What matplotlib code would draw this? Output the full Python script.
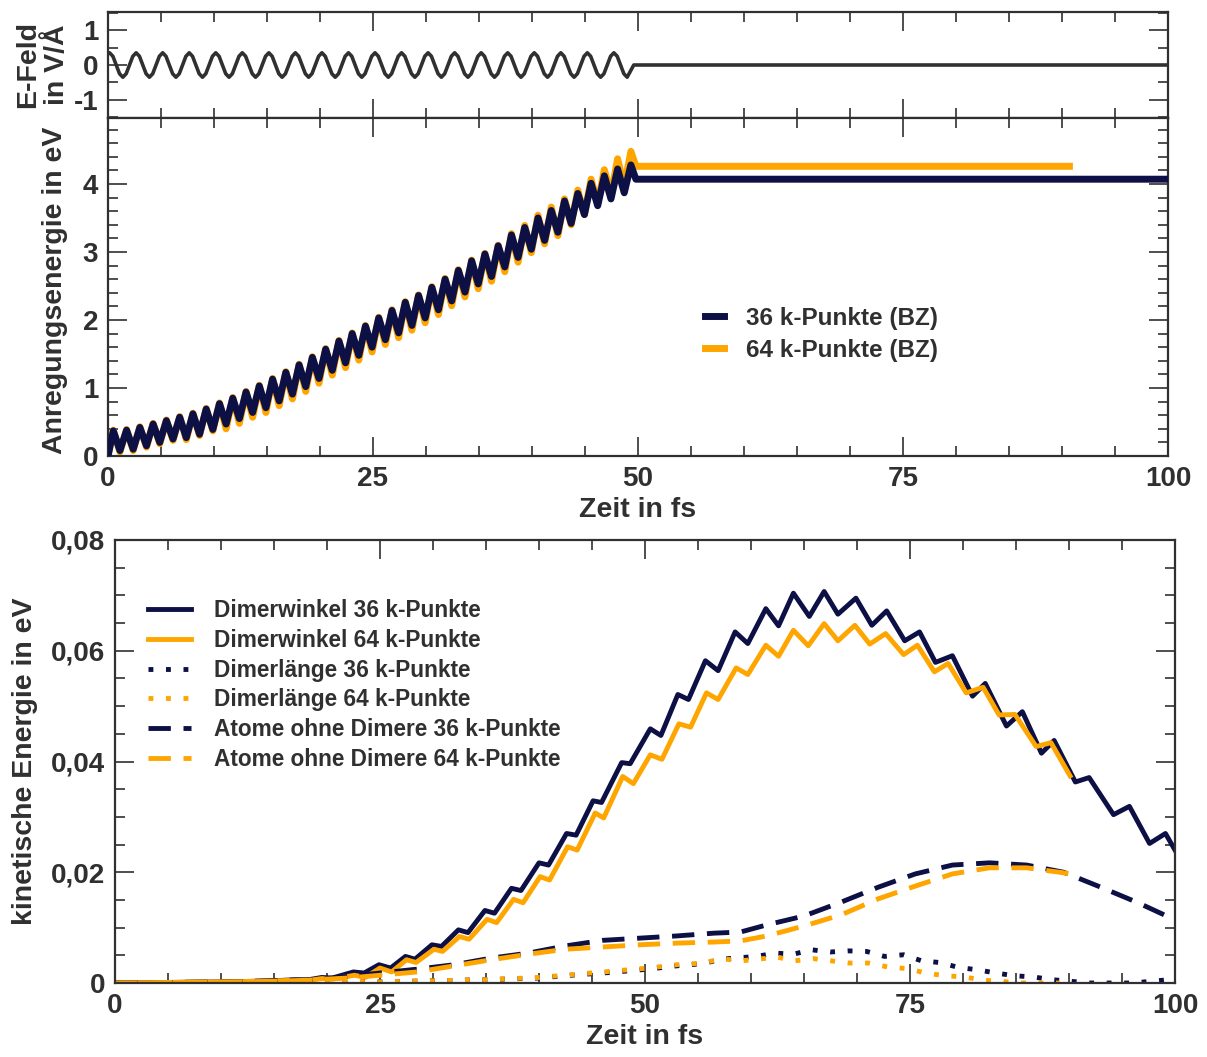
import numpy as np
import matplotlib
matplotlib.use("Agg")
import matplotlib.pyplot as plt
from matplotlib.ticker import MultipleLocator, FuncFormatter

plt.rcParams['font.family'] = ['Liberation Sans', 'DejaVu Sans']
plt.rcParams['font.weight'] = 'bold'
plt.rcParams['axes.labelweight'] = 'bold'
plt.rcParams['axes.unicode_minus'] = False

NAVY = '#0c1045'
ORANGE = '#ffa500'
INK = '#303030'

# ---- E-Feld (V/A), sampled every 1/8 period, period ~2.5 fs ----
efield = [
    0.35, 0.25, 0.0, -0.25, -0.35, -0.25, 0.0, 0.25,
    0.35, 0.25, 0.0, -0.25, -0.35, -0.25, 0.0, 0.25,
    0.35, 0.25, 0.0, -0.25, -0.35, -0.25, 0.0, 0.25,
    0.35, 0.25, 0.0, -0.25, -0.35, -0.25, 0.0, 0.25,
    0.35, 0.25, 0.0, -0.25, -0.35, -0.25, 0.0, 0.25,
    0.35, 0.25, 0.0, -0.25, -0.35, -0.25, 0.0, 0.25,
    0.35, 0.25, 0.0, -0.25, -0.35, -0.25, 0.0, 0.25,
    0.35, 0.25, 0.0, -0.25, -0.35, -0.25, 0.0, 0.25,
    0.35, 0.25, 0.0, -0.25, -0.35, -0.25, 0.0, 0.25,
    0.35, 0.25, 0.0, -0.25, -0.35, -0.25, 0.0, 0.25,
    0.35, 0.25, 0.0, -0.25, -0.35, -0.25, 0.0, 0.25,
    0.35, 0.25, 0.0, -0.25, -0.35, -0.25, 0.0, 0.25,
    0.35, 0.25, 0.0, -0.25, -0.35, -0.25, 0.0, 0.25,
    0.35, 0.25, 0.0, -0.25, -0.35, -0.25, 0.0, 0.25,
    0.35, 0.25, 0.0, -0.25, -0.35, -0.25, 0.0, 0.25,
    0.35, 0.25, 0.0, -0.25, -0.35, -0.25, 0.0, 0.25,
    0.35, 0.25, 0.0, -0.25, -0.35, -0.25, 0.0, 0.25,
    0.35, 0.25, 0.0, -0.25, -0.35, -0.25, 0.0, 0.25,
    0.35, 0.25, 0.0, -0.25, -0.35, -0.25, 0.0, 0.25,
    0.35, 0.25, 0.0, -0.25, -0.35,
]

# ---- Anregungsenergie (eV): peaks and troughs of the oscillation ----
peaks36 = [0.37, 0.38, 0.42, 0.47, 0.52, 0.57, 0.62, 0.69, 0.77, 0.85,
           0.94, 1.03, 1.13, 1.23, 1.34, 1.45, 1.57, 1.69, 1.80, 1.91,
           2.03, 2.14, 2.26, 2.36, 2.48, 2.60, 2.73, 2.87, 2.97, 3.09,
           3.25, 3.36, 3.50, 3.61, 3.75, 3.86, 4.01, 4.12, 4.22, 4.28]
troughs36 = [0.08, 0.10, 0.15, 0.20, 0.25, 0.27, 0.32, 0.39, 0.47, 0.55,
             0.64, 0.71, 0.81, 0.91, 1.02, 1.14, 1.26, 1.37, 1.48, 1.60,
             1.71, 1.81, 1.92, 2.03, 2.15, 2.28, 2.41, 2.53, 2.64, 2.78,
             2.92, 3.04, 3.17, 3.29, 3.42, 3.55, 3.68, 3.78, 3.87]
peaks64 = [0.38, 0.39, 0.43, 0.48, 0.53, 0.58, 0.63, 0.70, 0.78, 0.86,
           0.95, 1.04, 1.14, 1.24, 1.35, 1.46, 1.58, 1.70, 1.81, 1.92,
           2.04, 2.15, 2.27, 2.37, 2.49, 2.61, 2.74, 2.88, 2.98, 3.10,
           3.27, 3.39, 3.54, 3.66, 3.78, 3.91, 4.07, 4.21, 4.37, 4.48]
troughs64 = [0.06, 0.08, 0.13, 0.18, 0.23, 0.24, 0.30, 0.37, 0.40, 0.48,
             0.57, 0.64, 0.74, 0.84, 0.95, 1.07, 1.19, 1.30, 1.41, 1.53,
             1.64, 1.74, 1.85, 1.96, 2.08, 2.21, 2.34, 2.46, 2.57, 2.71,
             2.85, 2.99, 3.12, 3.24, 3.40, 3.55, 3.71, 3.84, 3.96]
flat36, flat64 = 4.07, 4.26
end36, end64 = 100.0, 90.7

# ---- kinetische Energie (eV) ----
winkel36_t = [0, 5, 10, 13, 15, 17, 18, 19.5, 20.5, 22.5, 23.5, 24.9, 26.0, 27.4, 28.3,
              29.9, 30.8, 32.4, 33.3, 34.9, 35.8, 37.4, 38.3, 40.0, 40.9, 42.6, 43.5,
              45.1, 45.9, 47.8, 48.6, 50.5, 51.5, 53.1, 54.1, 55.7, 56.9, 58.5, 59.7,
              61.4, 62.6, 64.0, 65.5, 66.9, 68.2, 69.9, 71.4, 72.8, 74.5, 75.9, 77.4,
              79.0, 80.9, 82.1, 84.1, 85.6, 87.4, 88.6, 90.6, 91.9, 94.2, 95.7, 97.6,
              99.1, 100]
winkel36 = [0, 0.0001, 0.0002, 0.0003, 0.0004, 0.0006, 0.0005, 0.0010, 0.0009, 0.0020,
            0.0018, 0.0033, 0.0027, 0.0048, 0.0043, 0.0069, 0.0066, 0.0096, 0.0091,
            0.0131, 0.0126, 0.0171, 0.0167, 0.0217, 0.0213, 0.0270, 0.0267, 0.0329,
            0.0326, 0.0398, 0.0396, 0.0459, 0.0447, 0.0521, 0.0512, 0.0582, 0.0564,
            0.0634, 0.0613, 0.0676, 0.0645, 0.0704, 0.0662, 0.0707, 0.0666, 0.0695,
            0.0646, 0.0672, 0.0618, 0.0634, 0.0579, 0.0591, 0.0518, 0.0541, 0.0464,
            0.0490, 0.0415, 0.0438, 0.0363, 0.0371, 0.0304, 0.0319, 0.0252, 0.0270,
            0.0240]
winkel64_t = [0, 5, 10, 13, 15, 17, 18, 19.5, 20.5, 22.6, 23.6, 25.0, 26.1, 27.5, 28.4,
              30.1, 30.9, 32.5, 33.4, 35.1, 36.0, 37.6, 38.5, 40.1, 41.0, 42.7, 43.6,
              45.3, 46.1, 47.9, 48.9, 50.5, 51.6, 53.2, 54.3, 55.8, 56.9, 58.6, 59.7,
              61.4, 62.6, 64.0, 65.4, 66.9, 68.2, 69.8, 71.2, 72.7, 74.4, 75.7, 77.3,
              78.6, 80.3, 81.9, 83.4, 84.9, 86.9, 88.3, 90.1]
winkel64 = [0, 0.0001, 0.0002, 0.0003, 0.0004, 0.0005, 0.0004, 0.0008, 0.0007, 0.0014,
            0.0010, 0.0027, 0.0020, 0.0042, 0.0037, 0.0061, 0.0057, 0.0084, 0.0079,
            0.0115, 0.0109, 0.0151, 0.0145, 0.0192, 0.0186, 0.0246, 0.0240, 0.0307,
            0.0298, 0.0373, 0.0360, 0.0412, 0.0404, 0.0468, 0.0462, 0.0524, 0.0512,
            0.0569, 0.0557, 0.0610, 0.0590, 0.0637, 0.0609, 0.0649, 0.0618, 0.0646,
            0.0612, 0.0631, 0.0593, 0.0610, 0.0562, 0.0577, 0.0524, 0.0534, 0.0484,
            0.0485, 0.0427, 0.0434, 0.0374]

laenge36_t = [0, 10, 20, 25, 30, 35, 40, 43, 46.7, 50.3, 53, 55.5, 57.2, 60.5, 62.3,
              64.0, 65.7, 67.5, 69.2, 70.9, 72.6, 74.4, 76.1, 77.8, 79.6, 81.3, 83.1,
              84.9, 86.6, 88.4, 90.2, 92, 96, 100]
laenge36 = [0, 0, 0.0001, 0.0002, 0.0004, 0.0006, 0.0009, 0.0014, 0.0019, 0.0025,
            0.0031, 0.0035, 0.0043, 0.0048, 0.0054, 0.0052, 0.0060, 0.0056, 0.0058,
            0.0057, 0.0048, 0.0051, 0.0040, 0.0037, 0.0028, 0.0024, 0.0018, 0.0013,
            0.0011, 0.0006, 0.0003, 0.0000, 0.0000, 0.0007]
laenge64_t = [0, 10, 20, 25, 30, 35, 40, 43, 46.7, 50.3, 53, 55.5, 57.2, 59, 60.7, 62.4,
              64.1, 65.9, 67.6, 69.3, 71.1, 72.9, 74.7, 76.5, 78.3, 80.1, 81.9, 83.6,
              85.5, 89.1]
laenge64 = [0, 0, 0.0001, 0.0002, 0.0004, 0.0006, 0.0010, 0.0015, 0.0021, 0.0027,
            0.0033, 0.0036, 0.0044, 0.0040, 0.0043, 0.0047, 0.0040, 0.0044, 0.0040,
            0.0036, 0.0036, 0.0029, 0.0026, 0.0018, 0.0013, 0.0011, 0.0005, 0.0003,
            0.0000, 0.0000]

atome36_t = [0, 5, 10, 15, 18, 20, 22, 25, 28.5, 32, 35.5, 39, 42.5, 46, 49.5, 53,
             56.5, 59, 61.5, 65, 68.5, 72, 75.5, 79, 82.5, 86, 89.5, 93, 96.5, 100]
atome36 = [0, 0.0001, 0.0002, 0.0004, 0.0006, 0.0008, 0.0012, 0.0018, 0.0025, 0.0033,
           0.0045, 0.0054, 0.0067, 0.0077, 0.0081, 0.0085, 0.0090, 0.0092, 0.0105,
           0.0121, 0.0146, 0.0173, 0.0197, 0.0213, 0.0217, 0.0213, 0.0200, 0.0173,
           0.0145, 0.0114]
atome64_t = [0, 5, 10, 15, 18, 20, 22, 25, 28.5, 32, 35.5, 39, 42.5, 46, 49.5, 53,
             56.5, 59, 61.5, 65, 68.5, 72, 75.5, 79, 82.5, 86, 89.5, 90.5]
atome64 = [0, 0.0001, 0.0002, 0.0003, 0.0005, 0.0007, 0.0009, 0.0014, 0.0020, 0.0031,
           0.0042, 0.0052, 0.0061, 0.0065, 0.0069, 0.0072, 0.0074, 0.0076, 0.0085,
           0.0103, 0.0123, 0.0152, 0.0175, 0.0197, 0.0208, 0.0208, 0.0199, 0.0195]


def interleave(peaks, troughs):
    out = np.empty(len(peaks) + len(troughs))
    out[0::2] = peaks
    out[1::2] = troughs
    return out


# time grids
t_field = np.concatenate([[0.0], 0.15 + 0.313 * np.arange(len(efield)), [49.6, 100.0]])
e_field = np.concatenate([[0.33], efield, [0.0, 0.0]])
t_osc = 0.5 + 0.626 * np.arange(len(peaks36) + len(troughs36))
t36 = np.concatenate([[0.0], t_osc, [49.8, end36]])
e36 = np.concatenate([[0.0], interleave(peaks36, troughs36), [flat36, flat36]])
t64 = np.concatenate([[0.0], t_osc, [49.8, end64]])
e64 = np.concatenate([[0.0], interleave(peaks64, troughs64), [flat64, flat64]])

W, H = 1207, 1057
fig = plt.figure(figsize=(W / 100, H / 100), dpi=100)


def px_axes(left, top, right, bottom):
    return fig.add_axes([left / W, 1 - bottom / H, (right - left) / W, (bottom - top) / H])


def style(ax):
    for s in ax.spines.values():
        s.set_color(INK)
        s.set_linewidth(1.6)
    ax.tick_params(which='both', direction='in', top=True, right=True,
                   colors=INK, width=1.2, labelsize=20, pad=7)
    ax.tick_params(which='major', length=14)
    ax.tick_params(which='minor', length=7)
    ax.xaxis.set_major_locator(MultipleLocator(25))
    ax.xaxis.set_minor_locator(MultipleLocator(5))
    ax.set_xlim(0, 100)


ax_f = px_axes(108, 12, 1168, 118)
ax_e = px_axes(108, 118, 1168, 456)
ax_k = px_axes(115, 540, 1175, 983)

# top: field
style(ax_f)
ax_f.plot(t_field, e_field, color=INK, lw=2.6, solid_joinstyle='round')
ax_f.set_ylim(-1.52, 1.52)
ax_f.yaxis.set_major_locator(MultipleLocator(1))
ax_f.yaxis.set_minor_locator(MultipleLocator(0.5))
ax_f.tick_params(labelbottom=False)
ax_f.set_ylabel('E-Feld\nin V/Å', fontsize=20.5, color=INK, linespacing=1.15, va='center')
ax_f.yaxis.set_label_coords(-0.062, 0.5)

# middle: excitation energy
style(ax_e)
ax_e.plot(t64, e64, color=ORANGE, lw=5, solid_joinstyle='round',
          label='64 k-Punkte (BZ)', zorder=2)
ax_e.plot(t36, e36, color=NAVY, lw=5, solid_joinstyle='round',
          label='36 k-Punkte (BZ)', zorder=3)
ax_e.set_ylim(0, 4.97)
ax_e.yaxis.set_major_locator(MultipleLocator(1))
ax_e.yaxis.set_minor_locator(MultipleLocator(0.2))
ax_e.set_xlabel('Zeit in fs', fontsize=20.5, color=INK, labelpad=4)
ax_e.set_ylabel('Anregungsenergie in eV', fontsize=20.5, color=INK, va='center')
ax_e.yaxis.set_label_coords(-0.05, 0.49)
h, l = ax_e.get_legend_handles_labels()
ax_e.legend(h[::-1], l[::-1], loc='upper left', bbox_to_anchor=(705 / W, 1 - 307 / H),
            bbox_transform=fig.transFigure, frameon=False,
            prop={'size': 17.5, 'weight': 'bold'},
            handlelength=0.8, handletextpad=0.9, labelspacing=0.36,
            borderpad=0, borderaxespad=0, labelcolor=INK)

# bottom: kinetic energy
style(ax_k)
lw = 3.5
ax_k.plot(winkel36_t, winkel36, color=NAVY, lw=lw, label='Dimerwinkel 36 k-Punkte')
ax_k.plot(winkel64_t, winkel64, color=ORANGE, lw=lw, label='Dimerwinkel 64 k-Punkte')
ax_k.plot(laenge36_t, laenge36, color=NAVY, lw=lw, dashes=(1, 2.6), label='Dimerlänge 36 k-Punkte')
ax_k.plot(laenge64_t, laenge64, color=ORANGE, lw=lw, dashes=(1, 2.6), label='Dimerlänge 64 k-Punkte')
ax_k.plot(atome36_t, atome36, color=NAVY, lw=lw, dashes=(4.6, 2.6), label='Atome ohne Dimere 36 k-Punkte')
ax_k.plot(atome64_t, atome64, color=ORANGE, lw=lw, dashes=(4.6, 2.6), label='Atome ohne Dimere 64 k-Punkte')
ax_k.set_ylim(0, 0.08)
ax_k.yaxis.set_major_locator(MultipleLocator(0.02))
ax_k.yaxis.set_minor_locator(MultipleLocator(0.005))
ax_k.yaxis.set_major_formatter(FuncFormatter(lambda v, p: '0' if abs(v) < 1e-9 else f'{v:.2f}'.replace('.', ',')))
ax_k.set_xlabel('Zeit in fs', fontsize=20.5, color=INK, labelpad=4)
ax_k.set_ylabel('kinetische Energie in eV', fontsize=20.5, color=INK, va='center')
ax_k.yaxis.set_label_coords(-0.085, 0.5)
ax_k.legend(loc='upper left', bbox_to_anchor=(148 / W, 1 - 599 / H),
            bbox_transform=fig.transFigure, frameon=False,
            prop={'size': 16.3, 'weight': 'bold'},
            handlelength=1.9, handletextpad=1.0, labelspacing=0.3,
            borderpad=0, borderaxespad=0, labelcolor=INK)

fig.savefig('out.png', dpi=100)
